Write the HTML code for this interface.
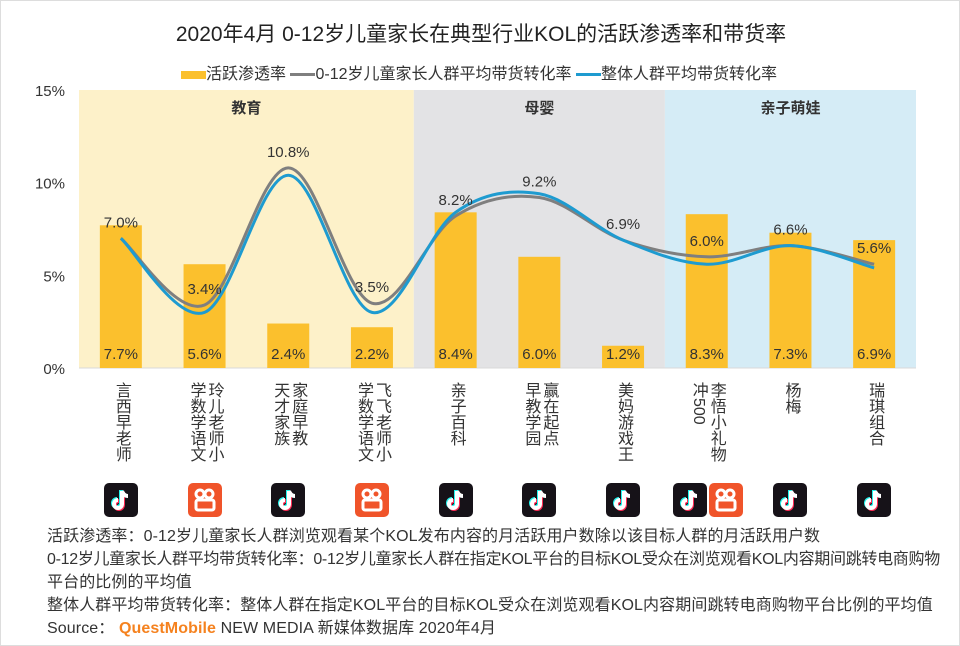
<!DOCTYPE html>
<html><head><meta charset="utf-8"><style>
body{margin:0;background:#fff;font-family:"Liberation Sans","Noto Sans CJK SC",sans-serif;}
#wrap{position:relative;width:960px;height:646px;overflow:hidden;border:1px solid #ddd;box-sizing:border-box;}
.note{position:absolute;left:46px;font-size:16px;letter-spacing:0.1px;color:#333;white-space:nowrap;}
.xl{position:absolute;top:381px;writing-mode:vertical-rl;font-size:16px;line-height:18px;color:#333;white-space:nowrap;}
.icon{position:absolute;top:482px;width:34px;height:34px;border-radius:5px;overflow:hidden;}
.tt{background:#161218;}
.ks{background:#f0542a;}
</style></head><body>
<div id="wrap">
<div style="position:absolute;top:17px;width:960px;text-align:center;font-size:21px;color:#222;">2020年4月 0-12岁儿童家长在典型行业KOL的活跃渗透率和带货率</div>
<div style="position:absolute;top:59px;left:180px;font-size:16px;color:#333;white-space:nowrap;">
<span><span style="display:inline-block;width:25px;height:8px;background:#fbc02d;vertical-align:middle"></span>活跃渗透率</span>
<span><span style="display:inline-block;width:25px;height:3px;background:#7f7f7f;vertical-align:middle"></span>0-12岁儿童家长人群平均带货转化率</span>
<span><span style="display:inline-block;width:25px;height:3px;background:#1e9bd0;vertical-align:middle"></span>整体人群平均带货转化率</span>
</div>
<svg id="svg" width="960" height="646" style="position:absolute;left:0;top:0"></svg>
<div id="labels"></div>
<div class="note" style="top:521px">活跃渗透率：0-12岁儿童家长人群浏览观看某个KOL发布内容的月活跃用户数除以该目标人群的月活跃用户数</div>
<div class="note" style="top:544px;letter-spacing:-0.3px">0-12岁儿童家长人群平均带货转化率：0-12岁儿童家长人群在指定KOL平台的目标KOL受众在浏览观看KOL内容期间跳转电商购物</div>
<div class="note" style="top:567px">平台的比例的平均值</div>
<div class="note" style="top:590px">整体人群平均带货转化率：整体人群在指定KOL平台的目标KOL受众在浏览观看KOL内容期间跳转电商购物平台比例的平均值</div>
<div class="note" style="top:613px">Source： <b style="color:#f5821f">QuestMobile</b> NEW MEDIA 新媒体数据库 2020年4月</div>
</div>
<script>
const categories=["言西早老师","玲儿老师小|学数学语文","家庭早教|天才家族","飞飞老师小|学数学语文","亲子百科","赢在起点|早教学园","美妈游戏王","李悟小礼物|冲500","杨梅","瑞琪组合"];
const penetration=[7.7,5.6,2.4,2.2,8.4,6.0,1.2,8.3,7.3,6.9];
const parentConv=[7.0,3.4,10.8,3.5,8.2,9.2,6.9,6.0,6.6,5.6];
const overallConv=[7.0,3.0,10.4,3.0,8.4,9.4,6.9,5.6,6.6,5.4];
const yTicks=[0,5,10,15];
const groups=[{name:"教育",from:0,to:4,color:"#fdf1c9"},{name:"母婴",from:4,to:7,color:"#e3e3e5"},{name:"亲子萌娃",from:7,to:10,color:"#d5ecf6"}];
const icons=[["tt"],["ks"],["tt"],["ks"],["tt"],["tt"],["tt"],["tt","ks"],["tt"],["tt"]];
const X0=78,X1=915,Y0=367,Y15=89;
const bw=(X1-X0)/categories.length;
const x=i=>X0+bw*(i+0.5);
const y=v=>Y0-(v/15)*(Y0-Y15);
const svg=document.getElementById('svg');const NS="http://www.w3.org/2000/svg";
function mk(t,a){const e=document.createElementNS(NS,t);for(const k in a)e.setAttribute(k,a[k]);svg.appendChild(e);return e;}
groups.forEach(g=>{const r=mk('rect',{x:X0+g.from*bw,y:Y15,width:(g.to-g.from)*bw,height:Y0-Y15,fill:g.color});


const t=mk('text',{x:X0+(g.from+g.to)/2*bw,y:112,'text-anchor':'middle','font-size':15,'font-weight':'bold',fill:'#333'});t.textContent=g.name;

});
mk('line',{x1:X0,x2:X1,y1:Y0,y2:Y0,stroke:'#d9d9d9'});
yTicks.forEach(v=>{const t=mk('text',{x:64,y:y(v)+6,'text-anchor':'end','font-size':15,fill:'#333'});t.textContent=v+'%';

});
penetration.forEach((v,i)=>{const r=mk('rect',{x:x(i)-21,y:y(v),width:42,height:Y0-y(v),fill:'#fbc02d'});


const t=mk('text',{x:x(i),y:358,'text-anchor':'middle','font-size':15,fill:'#333'});t.textContent=v.toFixed(1)+'%';

});
function path(vals){const p=vals.map((v,i)=>[x(i),y(v)]);let d='M'+p[0];for(let i=0;i<p.length-1;i++){const a=p[i-1]||p[i],b=p[i],c=p[i+1],e=p[i+2]||c;
const c1=[b[0]+(c[0]-a[0])/6,b[1]+(c[1]-a[1])/6],c2=[c[0]-(e[0]-b[0])/6,c[1]-(e[1]-b[1])/6];d+='C'+c1+' '+c2+' '+c;}return d;}
const l1=mk('path',{d:path(parentConv),fill:'none',stroke:'#7f7f7f','stroke-width':3});


const l2=mk('path',{d:path(overallConv),fill:'none',stroke:'#1e9bd0','stroke-width':3});


parentConv.forEach((v,i)=>{const t=mk('text',{x:x(i),y:y(v)-11,'text-anchor':'middle','font-size':15,fill:'#333'});t.textContent=v.toFixed(1)+'%';

});
const L=document.getElementById('labels');
const TT='<svg width="34" height="34" viewBox="0 0 34 34"><path d="M18 8v13a4 4 0 1 1-4-4" fill="none" stroke="#25f4ee" stroke-width="4" transform="translate(-1,-1)"/><path d="M18 8v13a4 4 0 1 1-4-4" fill="none" stroke="#fe2c55" stroke-width="4" transform="translate(1,1)"/><path d="M18 8v13a4 4 0 1 1-4-4M18 8c1 3 3 5 6 5" fill="none" stroke="#fff" stroke-width="4"/></svg>';
const KS='<svg width="34" height="34" viewBox="0 0 34 34"><circle cx="12" cy="11" r="4" fill="none" stroke="#fff" stroke-width="3"/><circle cx="21" cy="11" r="4" fill="none" stroke="#fff" stroke-width="3"/><rect x="8" y="17" width="18" height="10" rx="2" fill="none" stroke="#fff" stroke-width="3"/></svg>';
categories.forEach((c,i)=>{const d=document.createElement('div');d.className='xl';d.innerHTML=c.split('|').join('<br>');


L.appendChild(d);const w=d.offsetWidth;d.style.left=(x(i)-w/2)+'px';
const n=icons[i].length;icons[i].forEach((k,j)=>{const ic=document.createElement('div');ic.className='icon '+k;


ic.style.left=(x(i)-17*n+j*36)+'px';
ic.innerHTML=k==='tt'?TT:KS;
L.appendChild(ic);});});
</script>
</body></html>
